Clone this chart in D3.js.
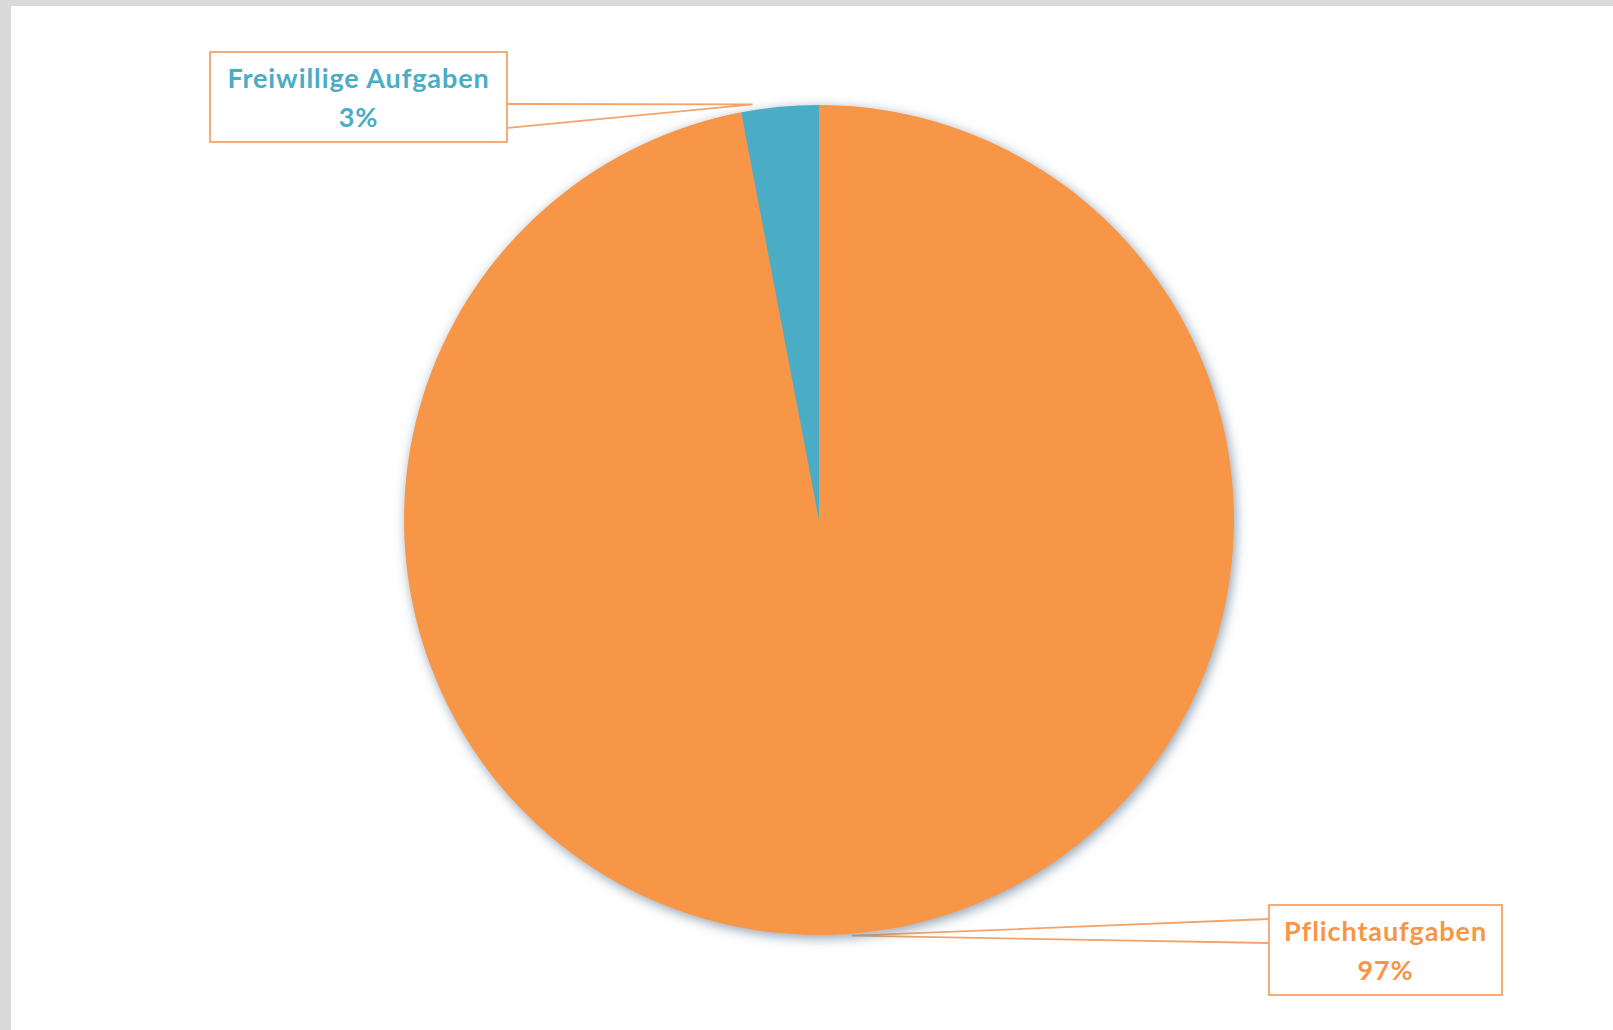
<!DOCTYPE html>
<html><head><meta charset="utf-8">
<script src="https://cdn.jsdelivr.net/npm/d3@7"></script>
<style>html,body{margin:0;padding:0;background:#fff;overflow:hidden}</style>
</head><body>
<svg id="c" width="1613" height="1030"></svg>
<script>
const categories = ["Pflichtaufgaben", "Freiwillige Aufgaben"];
const values = [97, 3];
const percentLabels = ["97%", "3%"];
const colors = ["#F79646", "#4BACC6"];

const W = 1613, H = 1030;
const svg = d3.select("#c");

// frame
svg.append("rect").attr("x",0).attr("y",0).attr("width",W).attr("height",H).attr("fill","#dadada");
svg.append("rect").attr("x",11).attr("y",6).attr("width",W-11).attr("height",H-6).attr("fill","#ffffff");

const defs = svg.append("defs");
const f = defs.append("filter").attr("id","sh").attr("x","-10%").attr("y","-10%").attr("width","120%").attr("height","120%");
f.append("feDropShadow").attr("dx",2).attr("dy",3).attr("stdDeviation",6)
  .attr("flood-color","#5f7890").attr("flood-opacity",0.7);

const cx = 819, cy = 520, R = 415;
const data = categories.map((c,i)=>({cat:c, value:values[i], pct:percentLabels[i], color:colors[i]}));
const pie = d3.pie().sort(null).value(d=>d.value);
const arc = d3.arc().innerRadius(0).outerRadius(R);
const arcs = pie(data);

// label boxes (layout)
const boxes = [
  {x:1269, y:905, w:233, h:90, tail:[[1269,919],[1269,943]], tipR:R+2, tipAng:Math.PI*0.975},
  {x:210, y:52, w:297, h:90, tail:[[507,104],[507,128]], tipR:R+6, tipAng:null}
];

const g = svg.append("g").attr("transform",`translate(${cx},${cy})`);
arcs.forEach((a,i)=>{
  const b = boxes[i];
  const ang = b.tipAng !== null ? b.tipAng : a.startAngle + 0.03;
  const tx = cx + b.tipR*Math.sin(ang), ty = cy - b.tipR*Math.cos(ang);
  svg.insert("path", "g").attr("d", `M${b.tail[0][0]},${b.tail[0][1]}L${tx},${ty}L${b.tail[1][0]},${b.tail[1][1]}`)
    .attr("fill","none").attr("stroke","#F2A46C").attr("stroke-width",1.8);
});

g.append("g").attr("filter","url(#sh)").selectAll("path").data(arcs).join("path")
  .attr("d", arc).attr("fill", d=>d.data.color);

arcs.forEach((a,i)=>{
  const b = boxes[i];
  svg.append("rect").attr("x",b.x).attr("y",b.y).attr("width",b.w).attr("height",b.h)
    .attr("fill","#fff").attr("stroke","#F2A46C").attr("stroke-width",1.8);
  const t = svg.append("text").attr("text-anchor","middle")
    .attr("font-family","Lato, 'Open Sans', sans-serif").attr("font-weight","bold")
    .attr("font-size",27).attr("letter-spacing","0.9px").attr("fill",a.data.color);
  t.append("tspan").attr("x",b.x+b.w/2).attr("y",b.y+36).text(a.data.cat);
  t.append("tspan").attr("x",b.x+b.w/2).attr("y",b.y+75).text(a.data.pct);
});
</script>
</body></html>
